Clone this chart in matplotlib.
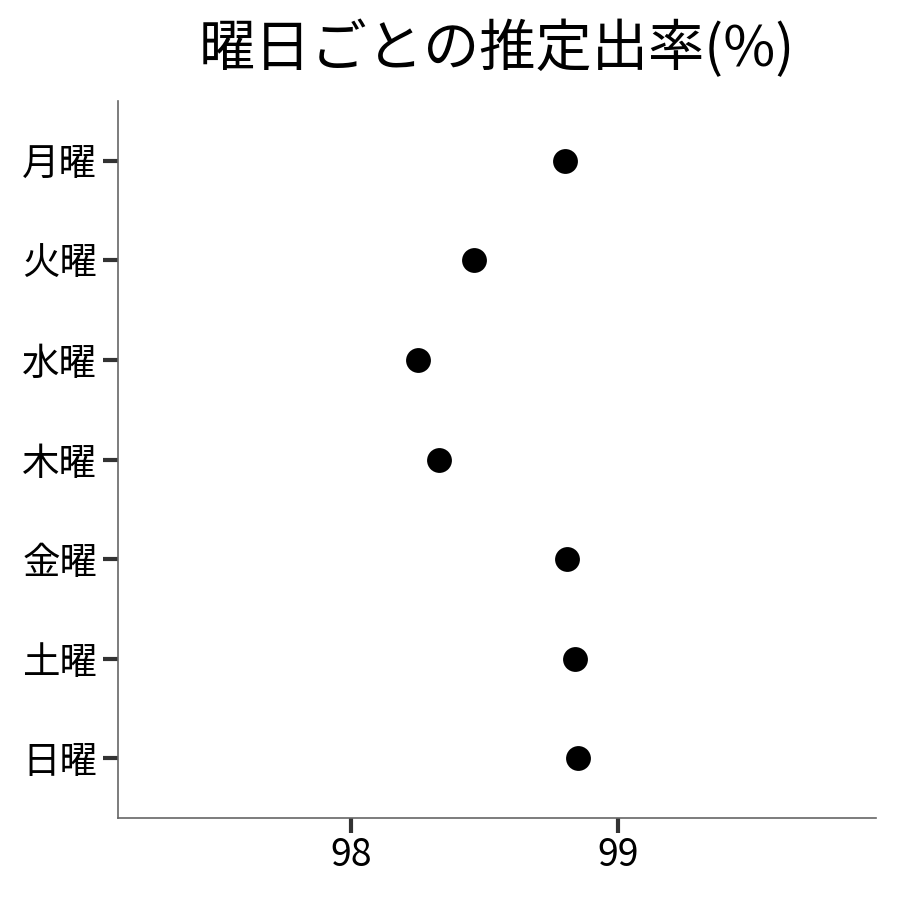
import matplotlib.pyplot as plt

plt.rcParams['font.family'] = ['Noto Sans CJK JP', 'DejaVu Sans']

days = ['月曜', '火曜', '水曜', '木曜', '金曜', '土曜', '日曜']
rate = [98.80, 98.46, 98.25, 98.33, 98.81, 98.84, 98.85]
xticks = [98, 99]

fig = plt.figure(figsize=(9, 9), dpi=100)
ax = fig.add_axes([118 / 900, 82 / 900, 758 / 900, 717 / 900])

pos = list(range(len(days)))
ax.scatter(rate, pos, s=320, color='black', zorder=3, linewidths=0)

ax.set_yticks(pos)
ax.set_yticklabels(days)
ax.set_ylim(len(days) - 1 + 0.6, -0.6)
ax.set_xticks(xticks)
ax.set_xticklabels([str(t) for t in xticks])
ax.set_xlim(97.127, 99.966)

for side in ['top', 'right']:
    ax.spines[side].set_visible(False)
for side in ['left', 'bottom']:
    ax.spines[side].set_color('#666666')
    ax.spines[side].set_linewidth(1.2)
ax.tick_params(axis='both', length=11, width=3, color='#333333', labelsize=27)
ax.tick_params(axis='y', pad=4)
ax.tick_params(axis='x', pad=2)

# title centred over the panel, like ggplot
ax.set_title('曜日ごとの推定出率(%)', fontsize=40.5, pad=25)

fig.savefig('out.png', dpi=100)
